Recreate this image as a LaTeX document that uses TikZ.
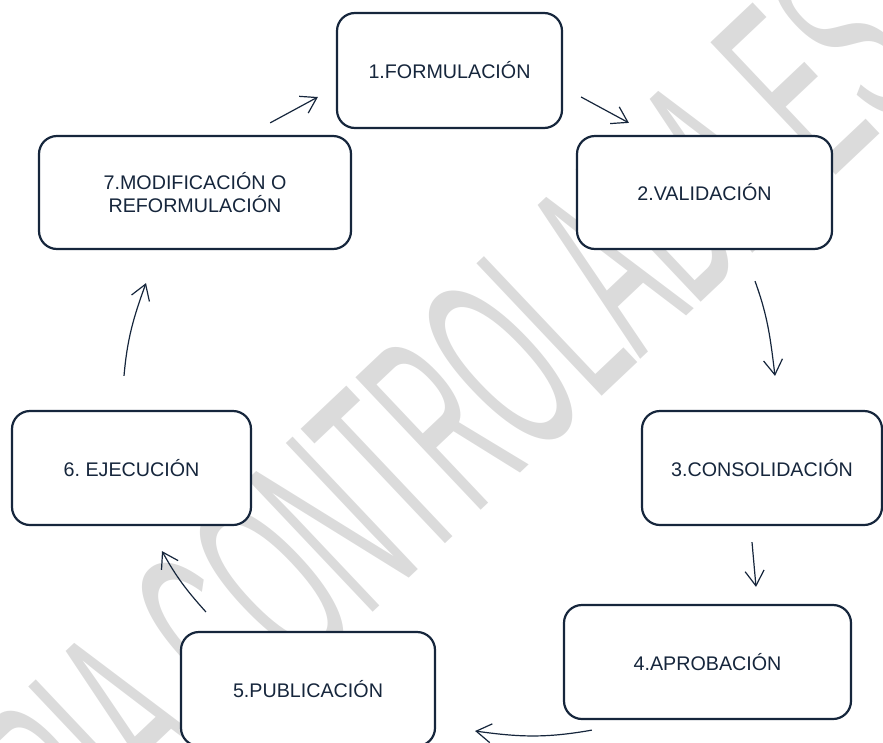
\documentclass[tikz,border=0pt]{standalone}
\usepackage{fontspec}
\setmainfont{Liberation Sans}
\newfontfamily\markfont[FakeStretch=0.42]{Liberation Sans}
\usetikzlibrary{arrows.meta,decorations.text}
\definecolor{inkcolor}{RGB}{22, 38, 60}
\definecolor{markcolor}{RGB}{219, 219, 219}
\tikzset{
        stagebox/.style={draw=inkcolor, line width=2.2pt, fill=white, rounded corners=18pt,
                inner sep=0pt, text=inkcolor, align=center, font=\frenchspacing\fontsize{19.7}{22.5}\selectfont},
        flowarrow/.style={draw=inkcolor, line width=1.2pt,
                -{Straight Barb[length=15pt, width=19pt, line width=1.2pt]}},
}

\begin{document}
\begin{tikzpicture}[x=1pt, y=1pt]
        \clip (0, 0) rectangle (883, -742); % same size as the screenshot

        % Watermark behind everything
        \path[decorate, decoration={text along path, text color=markcolor,
                text={|\markfont\fontsize{265}{265}\selectfont|COPIA CONTROLADA ES}}]
                (-29, -992.5) -- (1061, 38);

        % Stages {{{
        \node[stagebox, minimum width=225pt, minimum height=115pt] (formulacion) at (449.5, -70.5) {1.FORMULACIÓN};
        \node[stagebox, minimum width=255pt, minimum height=113pt] (validacion) at (704.5, -192.5) {2.VALIDACIÓN};
        \node[stagebox, minimum width=240pt, minimum height=114pt] (consolidacion) at (762, -468) {3.CONSOLIDACIÓN};
        \node[stagebox, minimum width=287pt, minimum height=114pt] (aprobacion) at (707.5, -662) {4.APROBACIÓN};
        \node[stagebox, minimum width=254pt, minimum height=114pt] (publicacion) at (308, -689) {5.PUBLICACIÓN};
        \node[stagebox, minimum width=239pt, minimum height=114pt] (ejecucion) at (131.5, -468) {6. EJECUCIÓN};
        \node[stagebox, minimum width=312pt, minimum height=113pt] (modificacion) at (195, -192.5) {7.MODIFICACIÓN O\\REFORMULACIÓN};
        % }}}

        % Cycle arrows {{{
        \draw[flowarrow] ([xshift=-82pt, yshift=12pt]modificacion.north east) -- ([xshift=-18pt, yshift=-26.5pt]formulacion.west);
        \draw[flowarrow] ([xshift=18pt, yshift=-26.5pt]formulacion.east) -- ([xshift=53pt, yshift=12pt]validacion.north west);
        \draw[flowarrow] ([xshift=50.5pt, yshift=-31pt]validacion.south) to[out=-70, in=97] ([xshift=13pt, yshift=34pt]consolidacion.north);
        \draw[flowarrow] ([xshift=-10pt, yshift=-16pt]consolidacion.south) -- ([xshift=48.5pt, yshift=17pt]aprobacion.north);
        \draw[flowarrow] ([xshift=29pt, yshift=-10pt]aprobacion.south west) to[out=190, in=-8] ([xshift=39pt, yshift=-42pt]publicacion.east);
        \draw[flowarrow] ([xshift=26pt, yshift=19pt]publicacion.north west) to[out=132, in=-61] ([xshift=30.5pt, yshift=-25pt]ejecucion.south);
        \draw[flowarrow] ([xshift=-7.5pt, yshift=34pt]ejecucion.north) to[out=85, in=-110] ([xshift=-49pt, yshift=-33pt]modificacion.south);
        % }}}
\end{tikzpicture}
\end{document}
